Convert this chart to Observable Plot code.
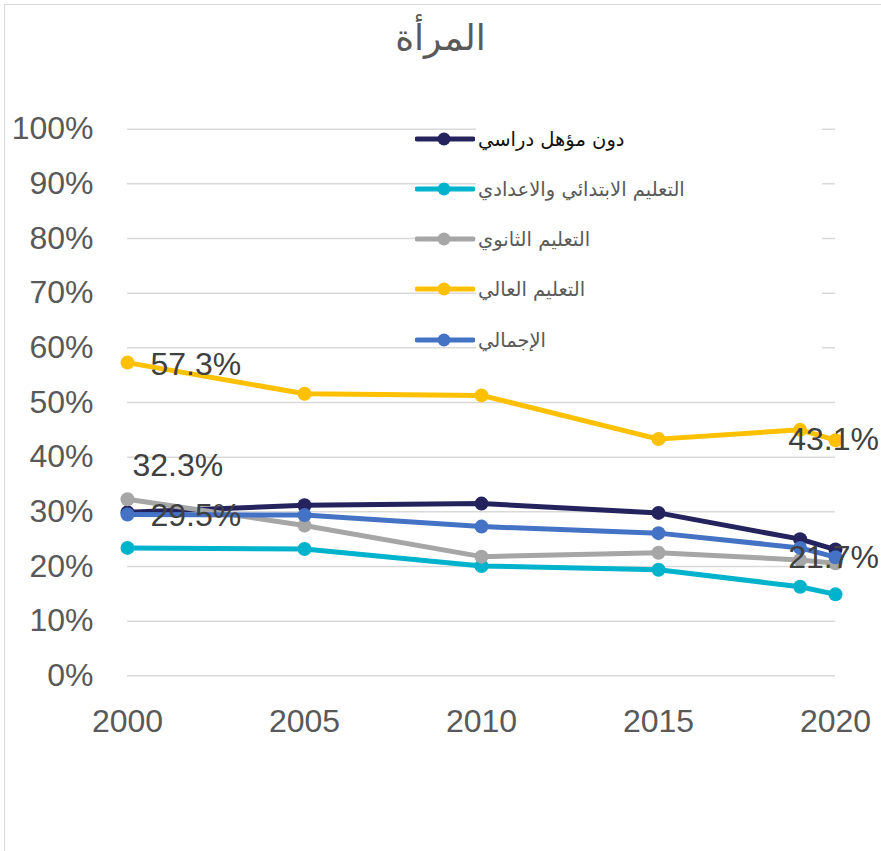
<!DOCTYPE html>
<html>
<head>
<meta charset="utf-8">
<script src="https://cdn.jsdelivr.net/npm/d3@7"></script>
<script src="https://cdn.jsdelivr.net/npm/@observablehq/plot@0.6"></script>
<style>
  html, body { margin: 0; padding: 0; background: #fff; }
  #wrap { position: relative; width: 881px; height: 851px; overflow: hidden; }
  #frame { position: absolute; left: 4px; top: 4px; width: 900px; height: 900px;
           border-left: 1.5px solid #d9d9d9; border-top: 1.5px solid #d9d9d9; pointer-events: none; }
  #title { height: 90px; width: 881px; text-align: center; font-family: "DejaVu Sans", sans-serif;
           font-size: 36px; color: #595959; line-height: 76px; direction: rtl; }
  #legend { position: absolute; left: 476px; top: 118px; width: 346px; height: 240px; background: #fff; }
  .entry { position: absolute; left: 415px; height: 20px; display: flex; align-items: center; }
  .entry svg { display: block; }
  .entry span { font-family: "DejaVu Sans", sans-serif; font-size: 19.5px; direction: rtl; unicode-bidi: isolate;
                margin-left: 3px; white-space: nowrap; }
</style>
</head>
<body>
<div id="wrap">
  <div id="title">المرأة</div>
  <div id="chart"></div>
  <div id="legend"></div>
  <div id="entries"></div>
  <div id="frame"></div>
</div>
<script>
// ---- data ----
const years = [2000, 2005, 2010, 2015, 2019, 2020];
const seriesNames = ["دون مؤهل دراسي", "التعليم الابتدائي والاعدادي", "التعليم الثانوي", "التعليم العالي", "الإجمالي"];
const noQualification = [29.9, 31.2, 31.5, 29.8, 25.0, 23.1];
const primaryPrep     = [23.4, 23.2, 20.1, 19.4, 16.3, 14.9];
const secondary       = [32.3, 27.5, 21.8, 22.5, 21.2, 20.6];
const higher          = [57.3, 51.6, 51.3, 43.3, 45.0, 43.1];
const total           = [29.5, 29.4, 27.3, 26.1, 23.4, 21.7];
const seriesColors = ["#24235E", "#00B3CC", "#A6A6A6", "#FFC000", "#4472C4"];
const xTicks = [2000, 2005, 2010, 2015, 2020];
const yTicks = [0, 0.1, 0.2, 0.3, 0.4, 0.5, 0.6, 0.7, 0.8, 0.9, 1.0];

const allValues = [noQualification, primaryPrep, secondary, higher, total];
const rows = [];
allValues.forEach((vals, i) => vals.forEach((v, j) => rows.push({series: seriesNames[i], year: years[j], value: v / 100})));

const pick = (s, yr) => rows.filter(d => d.series === seriesNames[s] && d.year === yr);
const fmt = d3.format(".1%");

const seriesMarks = [];
seriesNames.forEach((name, i) => {
  const d = rows.filter(r => r.series === name);
  seriesMarks.push(Plot.line(d, {x: "year", y: "value", stroke: seriesColors[i], strokeWidth: 5}));
  seriesMarks.push(Plot.dot(d, {x: "year", y: "value", r: 7, fill: seriesColors[i], stroke: "none"}));
});

const labelStyle = {x: "year", y: "value", text: d => fmt(d.value), fill: "#404040", fontSize: 32};

const chart = Plot.plot({
  width: 881,
  height: 761,
  marginLeft: 127,
  marginRight: 46,
  marginTop: 38.7,
  marginBottom: 175.7,
  style: {fontFamily: "'Liberation Sans', Arial, sans-serif", background: "transparent", color: "#595959"},
  x: {domain: [2000, 2020]},
  y: {domain: [0, 1]},
  marks: [
    Plot.ruleY(yTicks, {stroke: "#d9d9d9", strokeWidth: 1.5}),
    Plot.axisX(xTicks, {tickSize: 0, tickPadding: 33, tickFormat: d => String(d), fontSize: 32, fill: "#595959", label: null}),
    Plot.axisY(yTicks, {tickSize: 0, tickPadding: 34, tickFormat: d3.format(".0%"), fontSize: 32, fill: "#595959", label: null}),
    ...seriesMarks,
    Plot.text(pick(3, 2000), {...labelStyle, textAnchor: "start", dx: 23, dy: 2}),
    Plot.text(pick(4, 2000), {...labelStyle, textAnchor: "start", dx: 23, dy: 1}),
    Plot.text(pick(2, 2000), {...labelStyle, textAnchor: "start", dx: 5, dy: -33}),
    Plot.text(pick(3, 2020), {...labelStyle, textAnchor: "middle", dx: -2, dy: 0}),
    Plot.text(pick(4, 2020), {...labelStyle, textAnchor: "middle", dx: -2, dy: 1})
  ]
});
document.getElementById("chart").appendChild(chart);

// ---- legend ----
const entries = document.getElementById("entries");
const legendTops = [139.3, 189.3, 239.3, 289.3, 340];
seriesNames.forEach((name, i) => {
  const e = document.createElement("div");
  e.className = "entry";
  e.style.top = (legendTops[i] - 10) + "px";
  e.innerHTML = `<svg width="60" height="20"><line x1="2" x2="58" y1="10" y2="10" stroke="${seriesColors[i]}" stroke-width="5" stroke-linecap="round"/><circle cx="29" cy="10" r="6.5" fill="${seriesColors[i]}"/></svg><span style="color:${i === 0 ? '#111' : '#595959'}">${name}</span>`;
  entries.appendChild(e);
});
</script>
</body>
</html>
